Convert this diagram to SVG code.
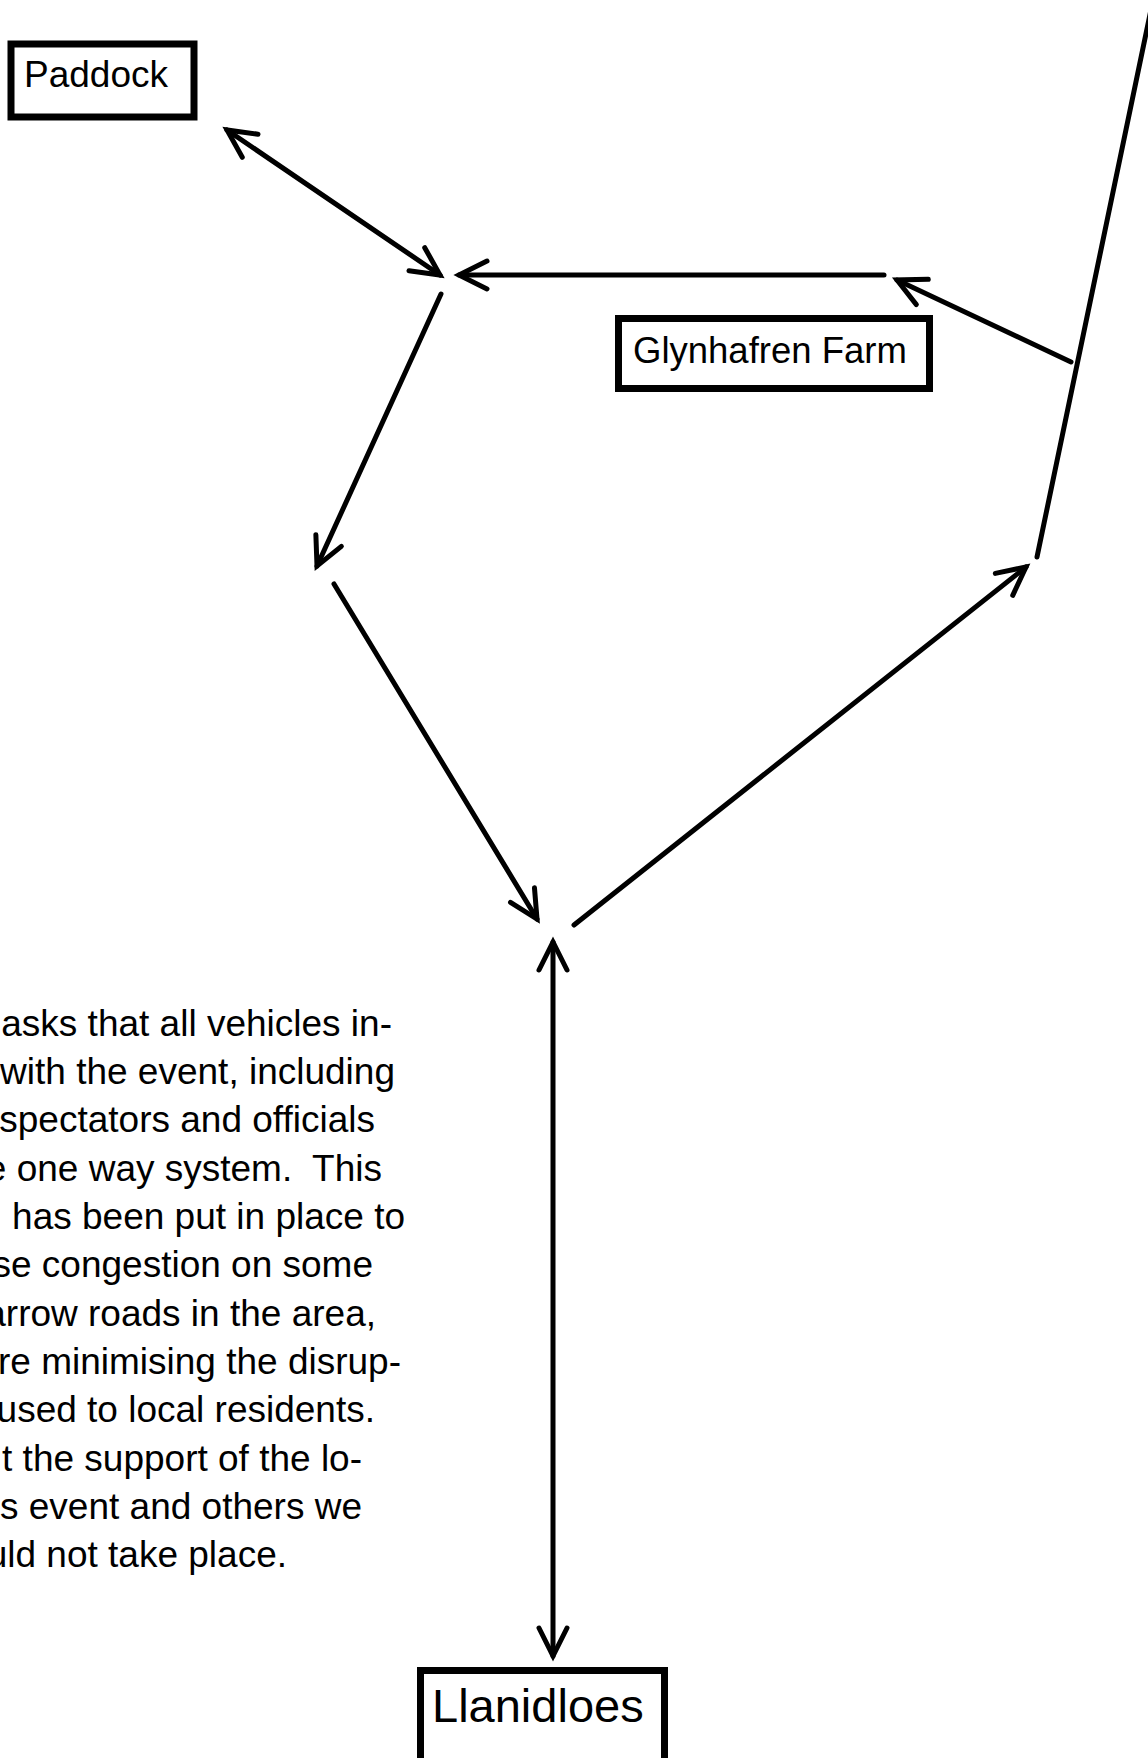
<svg xmlns="http://www.w3.org/2000/svg" width="1148" height="1758" viewBox="0 0 1148 1758">
<style>
.box{fill:#fff;stroke:#000;stroke-width:7}
.lbl{font-family:"Liberation Sans",Arial,sans-serif;fill:#000}
.c{fill:none;stroke:#000;stroke-width:5;stroke-linecap:round}
.body{font-family:"Liberation Sans",Arial,sans-serif;font-size:37px;fill:#000;text-anchor:end;white-space:pre}
</style>
<defs>
<marker id="ah" markerUnits="userSpaceOnUse" viewBox="-34 -20 40 40" refX="0" refY="0" markerWidth="40" markerHeight="40" orient="auto-start-reverse" overflow="visible">
<path d="M -28,-14 L 0,0 L -28,14" fill="none" stroke="#000" stroke-width="5" stroke-linecap="round" stroke-linejoin="miter"/>
</marker>
</defs>
<rect width="1148" height="1758" fill="#fff"/>
<g id="connectors">
<line class="c" x1="227" y1="130" x2="440" y2="275" marker-start="url(#ah)" marker-end="url(#ah)"/>
<line class="c" x1="884" y1="275" x2="459" y2="275" marker-end="url(#ah)"/>
<line class="c" x1="1071" y1="362" x2="897" y2="280" marker-end="url(#ah)"/>
<line class="c" x1="1153" y1="0" x2="1037" y2="557"/>
<line class="c" x1="441" y1="294" x2="317" y2="566" marker-end="url(#ah)"/>
<line class="c" x1="334" y1="584" x2="537" y2="919" marker-end="url(#ah)"/>
<line class="c" x1="574" y1="925" x2="1026" y2="567" marker-end="url(#ah)"/>
<line class="c" x1="553" y1="942" x2="553" y2="1656" marker-start="url(#ah)" marker-end="url(#ah)"/>
</g>
<g id="paddock">
<rect class="box" x="11" y="44" width="183" height="73" stroke-width="6"/>
<text class="lbl" x="24" y="87" font-size="37">Paddock</text>
</g>
<g id="glynhafren">
<rect class="box" x="618.5" y="318.5" width="311" height="70"/>
<text class="lbl" x="633" y="363" font-size="36.5">Glynhafren Farm</text>
</g>
<g id="llanidloes">
<rect class="box" x="420.5" y="1670.5" width="244" height="120"/>
<text class="lbl" x="432" y="1722" font-size="47">Llanidloes</text>
</g>
<g id="notice">
<text class="body" x="392" y="1036">asks that all vehicles in-</text>
<text class="body" x="395" y="1084">with the event, including</text>
<text class="body" x="375" y="1132">spectators and officials</text>
<text class="body" x="382" y="1181" xml:space="preserve">e one way system.  This</text>
<text class="body" x="405" y="1229">has been put in place to</text>
<text class="body" x="373" y="1277">se congestion on some</text>
<text class="body" x="376" y="1326">arrow roads in the area,</text>
<text class="body" x="401" y="1374">re minimising the disrup-</text>
<text class="body" x="375" y="1422">used to local residents.</text>
<text class="body" x="362" y="1471">t the support of the lo-</text>
<text class="body" x="362" y="1519">s event and others we</text>
<text class="body" x="287" y="1567">uld not take place.</text>
</g>
</svg>
